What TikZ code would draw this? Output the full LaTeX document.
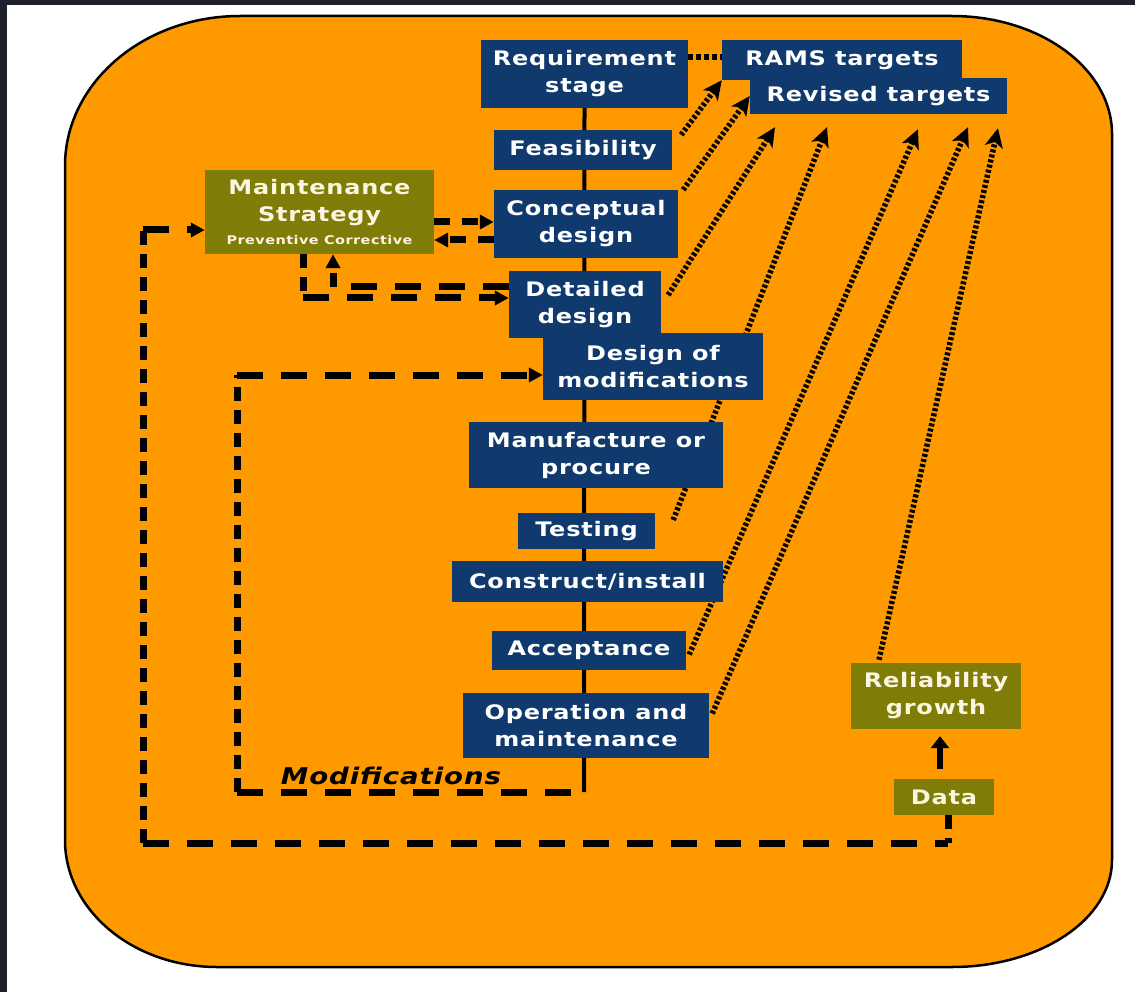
\documentclass[tikz,border=0pt]{standalone}
\usepackage{fontspec}
\setmainfont[FakeStretch=1.2,LetterSpace=4]{DejaVu Sans}
\usetikzlibrary{arrows.meta}
\definecolor{orangebg}{RGB}{255,153,0}
\definecolor{navy}{RGB}{16,58,110}
\definecolor{olivebox}{RGB}{128,124,8}
\definecolor{cream}{RGB}{250,246,225}
\definecolor{darkstrip}{RGB}{30,33,43}
\newcommand\bxfont{\bfseries\fontsize{20}{27}\selectfont}
\pgfdeclarelayer{bg}
\pgfsetlayers{bg,main}
\tikzset{
  nbox/.style={fill=navy, text=white, font=\bxfont, align=center, inner sep=0pt},
  gbox/.style={fill=olivebox, text=cream, font=\bxfont, align=center, inner sep=0pt},
  sz/.style 2 args={minimum width=#1pt, minimum height=#2pt},
  hdash/.style={line width=7pt, dash pattern=on 26pt off 18pt},
  vdash/.style={line width=7pt, dash pattern=on 14pt off 9pt},
  dtip/.style={-{Triangle[length=14pt,width=14pt]}},
  dotarrow/.style={line width=5.5pt, dash pattern=on 3pt off 2.2pt, -{Stealth[length=19pt,width=18pt,inset=5pt]}},
  spine/.style={line width=4pt},
}
\begin{document}
\begin{tikzpicture}[x=1pt,y=-1pt]
\useasboundingbox (0,0) rectangle (1135,992);
% nodes
\node[nbox, sz={207}{68}] (req) at (584.5,74) {Requirement\\stage};
\node[nbox, sz={240}{40}] (rams) at (842,60) {RAMS targets};
\node[nbox, sz={257}{36}] (rev) at (878.5,96) {Revised targets};
\node[nbox, sz={178}{40}] (feas) at (583,150) {Feasibility};
\node[nbox, sz={184}{68}] (conc) at (586,224) {Conceptual\\design};
\node[nbox, sz={152}{67}] (det) at (585,304.5) {Detailed\\design};
\node[nbox, sz={220}{67}] (dmod) at (653,366.5) {Design of\\modifications};
\node[nbox, sz={254}{66}] (manu) at (596,455) {Manufacture or\\procure};
\node[nbox, sz={137}{36}] (test) at (586.5,531) {Testing};
\node[nbox, sz={271}{41}] (cons) at (587.5,581.5) {Construct/install};
\node[nbox, sz={194}{39}] (acc) at (589,650.5) {Acceptance};
\node[nbox, sz={246}{65}] (oper) at (586,725.5) {Operation and\\maintenance};
\node[gbox, sz={229}{84}] (maint) at (319.5,212) {Maintenance\\Strategy\\[-4pt]{\fontsize{12}{14}\selectfont Preventive Corrective}};
\node[gbox, sz={170}{66}] (rel) at (936,696) {Reliability\\growth};
\node[gbox, sz={100}{36}] (data) at (944,797) {Data};
\node[font=\bfseries\itshape\fontsize{23}{26}\selectfont, inner sep=0pt] (modl) at (391,776) {Modifications};

\begin{pgfonlayer}{bg}
\fill[white] (0,0) rectangle (1135,992);
\fill[darkstrip] (0,0) rectangle (1135,5);
\fill[darkstrip] (0,0) rectangle (7,992);
\draw[fill=orangebg, line width=2.5pt]
  (240,16) -- (952,16)
  arc[start angle=-90, end angle=0, x radius=160, y radius=118]
  -- (1112,860)
  arc[start angle=0, end angle=90, x radius=160, y radius=107]
  -- (217,967)
  arc[start angle=90, end angle=180, x radius=152, y radius=127]
  -- (65,166)
  arc[start angle=180, end angle=270, x radius=175, y radius=150]
  -- cycle;
% spine
\coordinate (spend) at (584,792);
\draw[spine] (req.south) -- (spend);
% dotted link requirement - RAMS
\draw[line width=6pt, dash pattern=on 5pt off 3pt] ([yshift=17pt]req.east) -- ([yshift=17pt]req.east -| rams.west);
% dotted arrows to targets
\draw[dotarrow] ([xshift=9pt,yshift=-5pt]feas.north east) -- (rams.south west);
\draw[dotarrow] ([xshift=5pt]conc.north east) -- (rev.west);
\draw[dotarrow] ([xshift=7pt,yshift=9.5pt]det.east) -- ([xshift=-103.5pt,yshift=-13pt]rev.south);
\draw[dotarrow] ([xshift=18pt,yshift=11pt]test.east) -- ([xshift=-51.5pt,yshift=-13pt]rev.south);
\draw[dotarrow] ([xshift=3pt,yshift=-4pt]acc.east) -- ([xshift=39.5pt,yshift=-15pt]rev.south);
\draw[dotarrow] ([xshift=3pt,yshift=12pt]oper.east) -- ([xshift=89.5pt,yshift=-13pt]rev.south);
\draw[dotarrow] ([xshift=-57pt,yshift=3pt]rel.north) -- ([xshift=119.5pt,yshift=-14pt]rev.south);
% maintenance <-> conceptual
\coordinate (a1) at ([yshift=-10pt]maint.east);
\coordinate (a2) at ([yshift=-16pt]conc.west);
\draw[hdash, dash pattern=on 16pt off 12pt, dtip] (a1) -- (a1 -| conc.west);
\draw[hdash, dash pattern=on 16pt off 12pt, dtip] (a2) -- (a2 -| maint.east);
% maintenance -> detailed
\coordinate (b1) at ([xshift=-16.5pt]maint.south);
\coordinate (b2) at (303,298);
\draw[vdash] (b1) -- (b2);
\draw[hdash, dtip] (b2) -- (b2 -| det.west);
% detailed -> maintenance
\coordinate (c1) at (333,287);
\draw[hdash] (c1 -| det.west) -- (c1);
\draw[vdash, dtip] (c1) -- (c1 |- maint.south);
% modifications loop
\coordinate (m1) at (237,792);
\coordinate (m2) at (237,375);
\draw[hdash] (m1) -- (spend);
\draw[vdash] (m1) -- (m2);
\draw[hdash, dtip] (m2) -- (m2 -| dmod.west);
% outer loop from data
\coordinate (o1) at ([xshift=4pt]data.south |- 0,843);
\coordinate (o2) at (143,843);
\coordinate (o3) at (143,230);
\draw[vdash] ([xshift=4pt]data.south) -- (o1);
\draw[hdash] (o2) -- (o1);
\draw[vdash] (o2) -- (o3);
\draw[hdash, dtip] (o3) -- (o3 -| maint.west);
% data -> reliability
\draw[line width=6pt, -{Triangle[length=12pt,width=18pt]}] ([xshift=-4pt,yshift=10pt]data.north) -- ([xshift=4pt,yshift=-7pt]rel.south);
\end{pgfonlayer}
\end{tikzpicture}
\end{document}
